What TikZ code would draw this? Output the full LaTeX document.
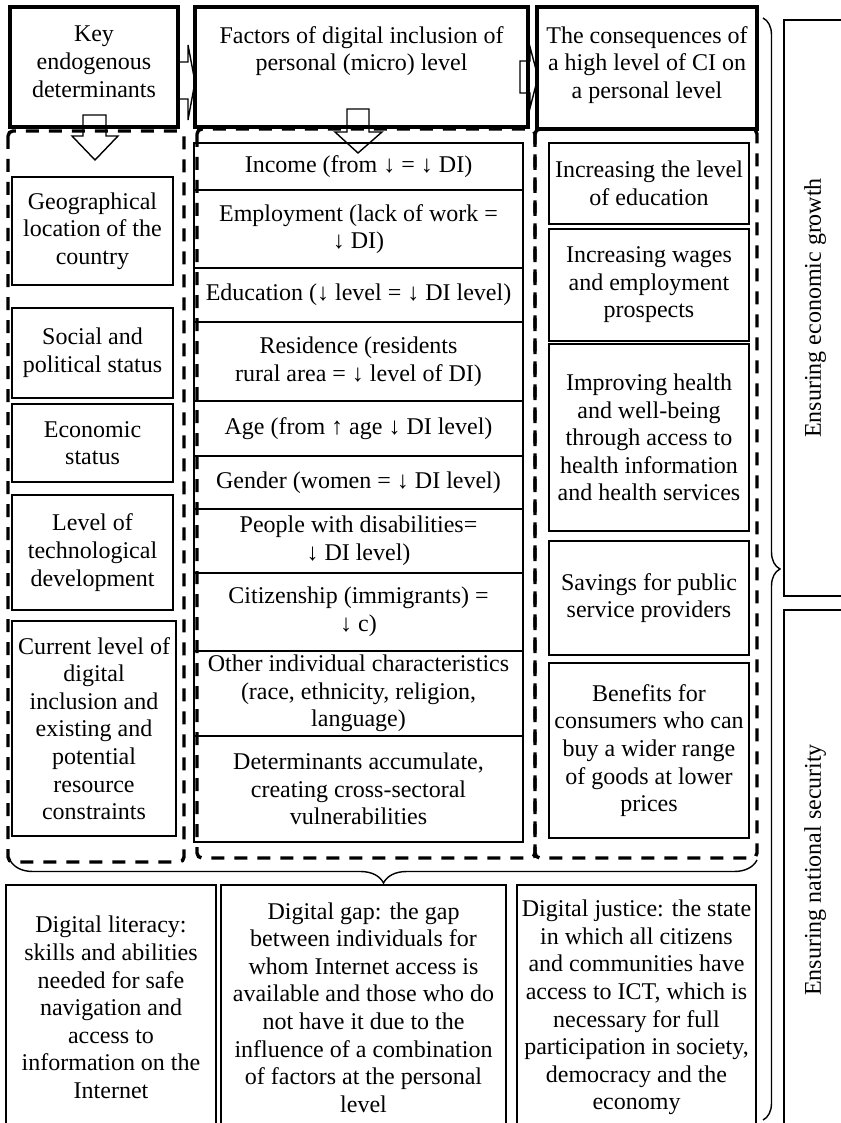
\documentclass[tikz,border=0pt]{standalone}
\usepackage{fontspec}
\setmainfont{Liberation Serif}
\usetikzlibrary{decorations.pathreplacing}
\begin{document}
\begin{tikzpicture}[x=1pt,y=-1pt,
  every node/.style={font=\fontsize{24}{27.6}\selectfont, align=center, inner sep=0pt},
  thinbox/.style={draw, line width=1.2pt},
  thickbox/.style={draw, line width=3.2pt},
  dashbox/.style={draw, line width=3.4pt, dash pattern=on 13pt off 10pt, rounded corners=5pt},
  blockarrow/.style={draw, fill=white, line width=1.4pt, line join=miter},
  bracel/.style={draw, line width=1.4pt, decorate}]
\useasboundingbox (0,0) rectangle (840,1123);

% block arrows (under the boxes)
\draw[blockarrow] (178,62) -- (188,62) -- (188,45) -- (195,82) -- (188,120) -- (188,99) -- (178,99) -- cycle;
\draw[blockarrow] (520,61) -- (530,61) -- (530,47) -- (538,77) -- (530,108) -- (530,93) -- (520,93) -- cycle;
\draw[blockarrow] (83,115) -- (106,115) -- (106,136) -- (118,136) -- (95,160) -- (72,136) -- (83,136) -- cycle;
\draw[blockarrow] (347,109) -- (369,109) -- (369,132) -- (382,132) -- (358,153) -- (335,132) -- (347,132) -- cycle;

% header boxes
\node[thickbox, minimum width=168pt, minimum height=120pt] (hA) at (94,67) {};
\node[thickbox, minimum width=333pt, minimum height=120pt] (hB) at (361.5,67) {};
\node[thickbox, minimum width=220pt, minimum height=122pt] (hC) at (647,68) {};
\node[anchor=north] (hAt) at (94,26) {Key\\endogenous\\determinants};
\node[anchor=north] (hBt) at (361.5,26) {Factors of digital inclusion of\\personal (micro) level};
\node[anchor=north] (hCt) at (647,26) {The consequences of\\a high level of CI on\\a personal level};

% dashed containers
\draw[dashbox] (8,131) rectangle (184,862);
\draw[dashbox] (197,129) rectangle (535,858);
\draw[dashbox] (535,129) rectangle (757,858);

% left column
\node[thinbox, minimum width=161pt, minimum height=108pt] (geo) at (92.5,231) {Geographical\\location of the\\country};
\node[thinbox, minimum width=161pt, minimum height=90pt] (soc) at (92.5,353) {Social and\\political status};
\node[thinbox, minimum width=161pt, minimum height=78pt] (eco) at (92.5,443) {Economic\\status};
\node[thinbox, minimum width=161pt, minimum height=115pt] (tech) at (92.5,552.5) {Level of\\technological\\development};
\node[thinbox, minimum width=164pt, minimum height=215pt] (cur) at (94,728.5) {Current level of\\digital\\inclusion and\\existing and\\potential\\resource\\constraints};

% middle column
\node[thinbox, minimum width=329pt, minimum height=47pt] (inc) at (358.5,166.5) {Income (from ↓ = ↓ DI)};
\node[thinbox, minimum width=329pt, minimum height=78pt] (emp) at (358.5,229) {Employment (lack of work =\\↓ DI)};
\node[thinbox, minimum width=329pt, minimum height=54pt] (edu) at (358.5,295) {Education (↓ level = ↓ DI level)};
\node[thinbox, minimum width=329pt, minimum height=79pt] (res) at (358.5,361.5) {Residence (residents\\rural area = ↓ level of DI)};
\node[thinbox, minimum width=329pt, minimum height=55pt] (age) at (358.5,428.5) {Age (from ↑ age ↓ DI level)};
\node[thinbox, minimum width=329pt, minimum height=53pt] (gen) at (358.5,482.5) {Gender (women = ↓ DI level)};
\node[thinbox, minimum width=329pt, minimum height=64pt] (dis) at (358.5,541) {People with disabilities=\\↓ DI level)};
\node[thinbox, minimum width=329pt, minimum height=78pt] (cit) at (358.5,612) {Citizenship (immigrants) =\\↓ c)};
\node[thinbox, minimum width=329pt, minimum height=85pt] (oth) at (358.5,693.5) {Other individual characteristics\\(race, ethnicity, religion,\\language)};
\node[thinbox, minimum width=329pt, minimum height=106pt] (det) at (358.5,789) {Determinants accumulate,\\creating cross-sectoral\\vulnerabilities};

% right column
\node[thinbox, minimum width=200pt, minimum height=81pt] (r1) at (649,183.5) {Increasing the level\\of education};
\node[thinbox, minimum width=200pt, minimum height=112pt] (r2) at (649,285) {Increasing wages\\and employment\\prospects};
\node[thinbox, minimum width=200pt, minimum height=187pt] (r3) at (649,437.5) {Improving health\\and well-being\\through access to\\health information\\and health services};
\node[thinbox, minimum width=200pt, minimum height=114pt] (r4) at (649,598) {Savings for public\\service providers};
\node[thinbox, minimum width=200pt, minimum height=175pt] (r5) at (649,750.5) {Benefits for\\consumers who can\\buy a wider range\\of goods at lower\\prices};

% braces
\draw[bracel, decoration={brace, amplitude=23pt}] (757,860) -- (10,860);
\draw[bracel, decoration={brace, amplitude=17pt}] (763,18) -- (763,1120);

% bottom boxes
\node[thinbox, minimum width=210pt, minimum height=245pt] (b1) at (111,1007.5) {Digital literacy:\\skills and abilities\\needed for safe\\navigation and\\access to\\information on the\\Internet};
\node[thinbox, minimum width=285pt, minimum height=245pt] (b2) at (363.5,1007.5) {Digital gap: the gap\\between individuals for\\whom Internet access is\\available and those who do\\not have it due to the\\influence of a combination\\of factors at the personal\\level};
\node[thinbox, minimum width=239pt, minimum height=245pt] (b3) at (636.5,1007.5) {Digital justice: the state\\in which all citizens\\and communities have\\access to ICT, which is\\necessary for full\\participation in society,\\democracy and the\\economy};

% right side boxes
\node[thinbox, rotate=90, minimum width=576pt, minimum height=62pt] (eg) at (815,308) {Ensuring economic growth};
\node[thinbox, rotate=90, minimum width=520pt, minimum height=62pt] (ns) at (815,870) {Ensuring national security};
\end{tikzpicture}
\end{document}
